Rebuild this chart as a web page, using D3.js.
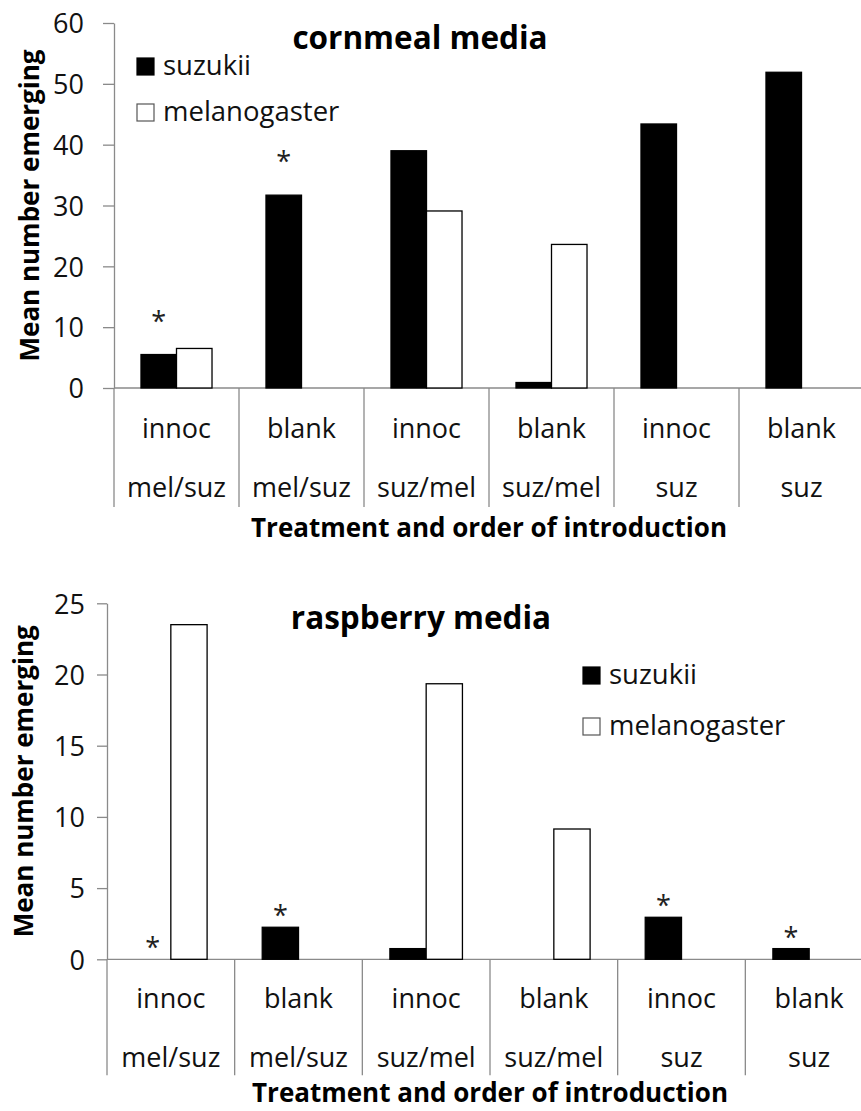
<!DOCTYPE html>
<html>
<head>
<meta charset="utf-8">
<script src="https://cdn.jsdelivr.net/npm/d3@7"></script>
<style>
  html, body { margin: 0; padding: 0; background: #fff; }
  svg { display: block; font-family: "Open Sans", "Noto Sans", sans-serif; }
</style>
</head>
<body>
<svg id="chart" width="861" height="1111"></svg>
<script>
// Category labels (two-level axis: treatment over order of introduction)
const treatments = ["innoc", "blank", "innoc", "blank", "innoc", "blank"];
const orders = ["mel/suz", "mel/suz", "suz/mel", "suz/mel", "suz", "suz"];
const seriesNames = ["suzukii", "melanogaster"];

// Cornmeal media: mean number emerging
const cornmealSuzukii = [5.5, 31.7, 39.0, 0.9, 43.4, 51.9];
const cornmealMelanogaster = [6.5, 0, 29.1, 23.6, 0, 0];
const cornmealStars = [true, true, false, false, false, false];
const cornmealTicks = [0, 10, 20, 30, 40, 50, 60];

// Raspberry media: mean number emerging
const raspberrySuzukii = [0, 2.25, 0.75, 0, 2.95, 0.75];
const raspberryMelanogaster = [23.5, 0, 19.35, 9.15, 0, 0];
const raspberryStars = [true, true, false, false, true, true];
const raspberryTicks = [0, 5, 10, 15, 20, 25];

const svg = d3.select("#chart");
const AXIS = "#8a8a8a";

function drawPanel(cfg) {
  const g = svg.append("g");
  const keys = treatments.map((t, i) => i);
  const x = d3.scaleBand().domain(keys).range([cfg.left, cfg.right]).padding(0);
  const inner = d3.scaleBand().domain(seriesNames).range([0, x.bandwidth()])
    .paddingInner(0).paddingOuter(0.76);
  const y = d3.scaleLinear().domain([0, cfg.max]).range([cfg.bottom, cfg.top]);

  // y axis
  const yAxis = d3.axisLeft(y).tickValues(cfg.ticks).tickSizeInner(cfg.tickLen)
    .tickSizeOuter(0).tickPadding(cfg.tickPad);
  const ya = g.append("g").attr("transform", `translate(${cfg.left},0)`).call(yAxis);
  ya.select(".domain").attr("stroke", AXIS).attr("stroke-width", 1.3);
  ya.selectAll(".tick line").attr("stroke", AXIS).attr("stroke-width", 1.3);
  ya.selectAll(".tick text").attr("fill", "#111").style("font-size", "27px")
    .attr("font-family", "Open Sans").attr("dy", "0.36em");

  // x baseline and category dividers
  g.append("line").attr("x1", cfg.left).attr("x2", cfg.right)
    .attr("y1", y(0)).attr("y2", y(0)).attr("stroke", AXIS).attr("stroke-width", 1.3);
  g.selectAll(".divider").data(keys.concat([keys.length])).join("line")
    .attr("x1", d => d < keys.length ? x(d) : cfg.right)
    .attr("x2", d => d < keys.length ? x(d) : cfg.right)
    .attr("y1", y(0)).attr("y2", y(0) + cfg.divLen)
    .attr("stroke", AXIS).attr("stroke-width", 1.3);

  // category labels
  g.selectAll(".treat").data(keys).join("text")
    .attr("x", d => x(d) + x.bandwidth() / 2).attr("y", y(0) + cfg.line1)
    .attr("text-anchor", "middle").style("font-size", "27px").attr("fill", "#111")
    .text(d => treatments[d]);
  g.selectAll(".order").data(keys).join("text")
    .attr("x", d => x(d) + x.bandwidth() / 2).attr("y", y(0) + cfg.line2)
    .attr("text-anchor", "middle").style("font-size", "27px").attr("fill", "#111")
    .text(d => orders[d]);

  // bars
  const rows = [];
  keys.forEach(i => {
    rows.push({ i, s: "suzukii", v: cfg.suz[i] });
    rows.push({ i, s: "melanogaster", v: cfg.mel[i] });
  });
  g.selectAll(".bar").data(rows.filter(d => d.v > 0)).join("rect")
    .attr("x", d => x(d.i) + inner(d.s))
    .attr("y", d => y(d.v))
    .attr("width", inner.bandwidth())
    .attr("height", d => y(0) - y(d.v))
    .attr("fill", d => d.s === "suzukii" ? "#000" : "#fff")
    .attr("stroke", "#000").attr("stroke-width", 1.3);

  // significance asterisks above suzukii bars
  g.selectAll(".star").data(keys.filter(i => cfg.stars[i])).join("text")
    .attr("x", i => x(i) + inner("suzukii") + inner.bandwidth() / 2)
    .attr("y", i => y(cfg.suz[i]) - cfg.starOffset)
    .attr("text-anchor", "middle").style("font-size", "27px").attr("fill", "#222")
    .text("*");

  // title
  g.append("text").attr("x", cfg.titleX).attr("y", cfg.titleY)
    .attr("text-anchor", "middle").style("font-size", "31.5px").style("font-weight", "bold")
    .attr("fill", "#000").text(cfg.title);

  // axis titles
  g.append("text").attr("x", (cfg.left + cfg.right) / 2).attr("y", y(0) + cfg.xTitle)
    .attr("text-anchor", "middle").style("font-size", "26px").style("font-weight", "bold")
    .attr("fill", "#000").text("Treatment and order of introduction");
  g.append("text")
    .attr("transform", `translate(${cfg.yTitleX},${(cfg.top + cfg.bottom) / 2}) rotate(-90)`)
    .attr("text-anchor", "middle").style("font-size", "26px").style("font-weight", "bold")
    .attr("fill", "#000").text("Mean number emerging");

  // legend
  const lg = g.append("g").attr("transform", `translate(${cfg.legX},${cfg.legY})`);
  seriesNames.forEach((s, k) => {
    const row = lg.append("g").attr("transform", `translate(0,${k * cfg.legGap})`);
    row.append("rect").attr("x", 0).attr("y", -17).attr("width", 17).attr("height", 17)
      .attr("fill", s === "suzukii" ? "#000" : "#fff")
      .attr("stroke", s === "suzukii" ? "#000" : "#555").attr("stroke-width", 1.2);
    row.append("text").attr("x", 26).attr("y", 0).style("font-size", "27.5px")
      .attr("fill", "#111").text(s);
  });
}

drawPanel({
  left: 114, right: 864, top: 23, bottom: 388, max: 60, ticks: cornmealTicks,
  tickLen: 11, tickPad: 19, divLen: 119, line1: 50, line2: 109, xTitle: 149,
  suz: cornmealSuzukii, mel: cornmealMelanogaster, stars: cornmealStars, starOffset: 24,
  title: "cornmeal media", titleX: 420, titleY: 49, yTitleX: 39,
  legX: 137, legY: 75, legGap: 46
});

drawPanel({
  left: 107, right: 873, top: 603.3, bottom: 959.3, max: 25, ticks: raspberryTicks,
  tickLen: 10, tickPad: 12, divLen: 116, line1: 49, line2: 108, xTitle: 143,
  suz: raspberrySuzukii, mel: raspberryMelanogaster, stars: raspberryStars, starOffset: 2,
  title: "raspberry media", titleX: 421, titleY: 629, yTitleX: 33,
  legX: 583, legY: 684, legGap: 51
});
</script>
</body>
</html>
